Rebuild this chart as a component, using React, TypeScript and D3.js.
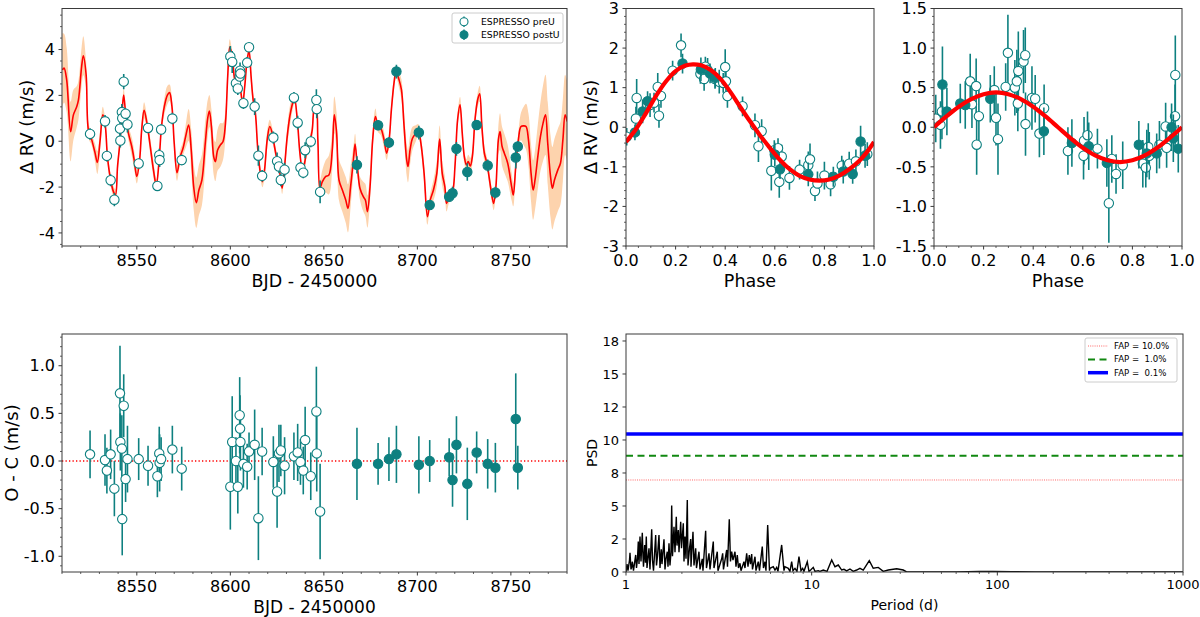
import React from "react";
import * as d3 from "d3";

// ---------------- DATA ----------------
// preU observations: [BJD-2450000, dRV (m/s), O-C (m/s), error (m/s)]
const preU: number[][] = [
  [8525.0, 0.32, 0.07, 0.25], [8533.0, 0.87, 0.01, 0.27], [8534.0, -0.64, -0.1, 0.24],
  [8536.0, -1.7, 0.07, 0.26], [8538.0, -2.55, -0.29, 0.29], [8541.0, 0.55, 0.71, 0.5],
  [8541.2, 0.03, 0.2, 0.3], [8542.0, 1.27, 0.13, 0.35], [8542.2, 1.0, -0.61, 0.38],
  [8543.0, 2.6, 0.58, 0.33], [8544.0, 1.2, -0.19, 0.24], [8545.0, 0.73, 0.02, 0.35],
  [8551.0, -0.97, 0.02, 0.22], [8556.0, 0.58, -0.05, 0.21], [8561.0, -1.95, -0.16, 0.22],
  [8562.0, -0.61, 0.08, 0.28], [8562.2, -0.82, -0.02, 0.3], [8563.0, 0.51, 0.02, 0.23],
  [8569.0, 0.99, 0.12, 0.25], [8574.0, -0.82, -0.08, 0.23], [8600.0, 3.7, -0.27, 0.45],
  [8601.0, 3.46, 0.2, 0.48], [8603.0, 2.53, 0.0, 0.25], [8604.0, 2.3, -0.27, 0.28],
  [8605.0, 2.82, 0.48, 0.4], [8605.2, 3.08, 0.34, 0.35], [8605.4, 2.95, 0.2, 0.3],
  [8607.0, 1.66, -0.03, 0.25], [8609.0, 3.43, -0.06, 0.24], [8610.0, 4.1, 0.1, 0.2],
  [8613.0, 1.51, 0.17, 0.37], [8615.0, -0.63, -0.6, 0.44], [8617.0, -1.51, 0.1, 0.25],
  [8623.0, 0.16, -0.01, 0.27], [8625.0, -0.87, -0.32, 0.38], [8626.0, -1.1, 0.08, 0.3],
  [8627.0, -1.69, 0.11, 0.27], [8629.0, -1.24, -0.05, 0.3], [8634.0, 1.9, 0.05, 0.25],
  [8636.0, 0.81, 0.09, 0.3], [8637.5, -1.15, -0.01, 0.24], [8639.0, -1.37, -0.1, 0.25],
  [8640.0, -0.39, 0.22, 0.35], [8643.0, -0.01, -0.16, 0.25], [8646.0, 1.8, 0.52, 0.47],
  [8646.2, 1.4, 0.08, 0.4], [8648.0, -2.21, -0.53, 0.5],
];
// postU observations: [BJD-2450000, dRV, O-C, error]
const postU: number[][] = [
  [8667.7, -1.03, -0.03, 0.38], [8679.0, 0.7, -0.03, 0.22], [8684.8, -0.06, 0.02, 0.23],
  [8688.8, 3.04, 0.07, 0.3], [8700.8, 0.38, -0.04, 0.3], [8706.6, -2.78, 0.0, 0.22],
  [8717.0, -2.42, 0.04, 0.2], [8718.8, -2.27, -0.2, 0.28], [8720.9, -0.33, 0.17, 0.3],
  [8726.7, -1.34, -0.24, 0.38], [8731.7, 0.71, 0.09, 0.22], [8737.6, -1.06, -0.03, 0.26],
  [8741.7, -2.24, -0.07, 0.26], [8752.6, -0.71, 0.44, 0.48], [8753.7, -0.23, -0.07, 0.23],
];

// GP model: day, mean, 1-sigma half width
const gpDays = [
  8510.2, 8511.1, 8512.5, 8514.6, 8516.1, 8517.9, 8518.8, 8520.5, 8521.4, 8522.9, 8524.1, 8525.9,
  8527.7, 8528.9, 8530.4, 8531.8, 8533.0, 8534.3, 8535.7, 8537.5, 8538.6, 8539.7, 8541.1, 8542.2,
  8543.0, 8544.3, 8545.5, 8547.3, 8548.6, 8550.0, 8551.4, 8552.7, 8553.9, 8555.4, 8557.2, 8558.9,
  8560.4, 8561.8, 8563.2, 8564.7, 8566.4, 8567.5, 8568.8, 8570.0, 8571.5, 8573.2, 8574.7, 8576.1,
  8577.7, 8579.1, 8580.4, 8581.8, 8583.2, 8584.8, 8586.6, 8587.9, 8588.8, 8589.9, 8591.1, 8592.0,
  8593.2, 8594.7, 8596.1, 8597.4, 8598.6, 8599.7, 8600.7, 8601.5, 8602.5, 8603.6, 8604.7, 8605.7,
  8606.6, 8607.7, 8608.9, 8610.0, 8611.1, 8612.2, 8613.4, 8614.7, 8616.1, 8617.2, 8618.3, 8619.7,
  8621.1, 8622.4, 8623.6, 8625.0, 8626.5, 8627.7, 8629.0, 8630.4, 8631.8, 8633.3, 8634.3, 8635.8,
  8637.2, 8638.6, 8639.7, 8641.1, 8642.5, 8643.8, 8645.0, 8645.8, 8646.8, 8647.9, 8649.2, 8650.9,
  8652.7, 8654.5, 8655.6, 8656.8, 8658.1, 8659.9, 8661.7, 8662.9, 8664.3, 8665.8, 8666.7, 8667.9,
  8669.3, 8671.1, 8672.2, 8673.3, 8674.7, 8676.1, 8677.6, 8679.0, 8680.4, 8682.2, 8683.6, 8684.9,
  8686.1, 8687.6, 8688.6, 8690.2, 8691.5, 8692.9, 8694.3, 8695.0, 8696.1, 8697.4, 8699.2, 8700.4,
  8701.9, 8703.6, 8705.4, 8706.9, 8708.6, 8710.4, 8711.9, 8713.3, 8714.7, 8715.6, 8717.0, 8718.8,
  8720.1, 8721.5, 8722.8, 8724.0, 8725.1, 8726.2, 8727.2, 8728.3, 8729.4, 8730.8, 8732.2, 8733.3,
  8734.5, 8735.8, 8737.2, 8738.7, 8740.1, 8740.8, 8742.0, 8743.3, 8744.2, 8745.3, 8746.5, 8748.3,
  8750.4, 8751.3, 8752.6, 8754.0, 8755.4, 8756.9, 8758.1, 8759.4, 8760.8, 8761.9, 8762.9, 8764.4,
  8765.8, 8767.2, 8768.5, 8769.7, 8771.2, 8772.2, 8773.3, 8775.1, 8776.5, 8777.8, 8779.0, 8780.1,
];
const gpRV = [
  3.11, 3.19, 2.68, 0.42, 1.15, 1.51, 1.8, 3.26, 3.73, 2.9, 0.5, 0.06,
  -0.52, -0.93, 0.06, 1.15, 0.79, -0.67, -1.54, -2.2, -2.34, -1.1, 0.06, 1.37,
  2.02, 0.93, 0.35, -0.23, -0.82, -1.54, -0.9, 0.6, 1.35, 0.8, -0.23, -1.25,
  -1.91, -0.96, 0.64, 1.51, 2.02, 2.12, 1.51, -0.09, -1.37, -0.67, -0.31, 0.2,
  0.71, -0.38, -1.98, -2.68, -2.13, -1.69, -0.09, 1.0, 1.32, 0.64, -0.67, -0.89,
  -0.38, -0.16, -0.01, 0.79, 2.82, 4.1, 3.84, 3.33, 2.68, 2.6, 2.68, 2.1,
  1.66, 2.39, 3.48, 3.96, 2.82, 1.8, 1.22, -0.38, -1.4, -1.76, -1.25, 0.06,
  0.64, 0.35, -0.23, -0.82, -1.4, -2.05, -1.1, 0.2, 1.08, 1.66, 1.88, 0.93,
  -0.52, -1.32, -0.96, -0.31, -0.01, 0.5, 1.51, 1.54, 0.06, -2.05, -1.76, -1.54,
  -1.47, -0.38, 1.15, 0.4, -1.69, -2.13, -2.56, -2.93, -1.98, -0.82, -0.12, -1.1,
  -2.05, -2.42, -2.56, -3.07, -1.98, 0.06, 1.08, 0.64, 0.57, 0.06, -0.52, 0.06,
  1.37, 2.6, 3.04, 2.68, 2.24, 0.64, -0.82, -1.1, -0.38, 0.13, 0.35, 0.5,
  -0.09, -1.4, -3.29, -2.56, -2.13, -1.4, 0.09, -1.4, -1.98, -2.71, -2.42, -2.2,
  -1.1, 0.93, 1.59, 0.35, -0.67, -1.03, -0.89, -1.08, -0.67, 0.93, 1.8, 2.07,
  0.64, -0.52, -0.96, -1.76, -2.49, -2.71, -1.98, 0.06, 0.42, -0.23, -0.52, -0.96,
  -1.98, -2.34, -1.1, 0.06, 0.64, 0.67, 0.64, 0.06, -1.4, -2.13, -1.69, -0.67,
  0.2, 0.79, 1.15, -0.09, -1.54, -2.05, -1.69, -1.25, -0.96, 0.06, 1.15, 0.86,
];
const gpSig = [
  1.6, 1.5, 1.4, 1.3, 1.1, 0.9, 0.85, 0.85, 0.85, 0.6, 0.35, 0.25,
  0.4, 0.5, 0.45, 0.35, 0.25, 0.25, 0.25, 0.25, 0.25, 0.3, 0.25, 0.25,
  0.3, 0.25, 0.3, 0.4, 0.4, 0.3, 0.25, 0.3, 0.35, 0.3, 0.35, 0.35,
  0.25, 0.25, 0.25, 0.35, 0.4, 0.35, 0.3, 0.3, 0.35, 0.3, 0.3, 0.5,
  0.7, 0.9, 1.0, 1.1, 1.1, 1.1, 1.0, 0.8, 0.7, 0.75, 0.8, 0.85,
  0.9, 0.95, 0.8, 0.6, 0.45, 0.35, 0.25, 0.25, 0.2, 0.2, 0.2, 0.2,
  0.2, 0.25, 0.2, 0.2, 0.3, 0.3, 0.25, 0.25, 0.25, 0.25, 0.3, 0.4,
  0.3, 0.25, 0.25, 0.2, 0.2, 0.25, 0.25, 0.4, 0.45, 0.3, 0.25, 0.25,
  0.25, 0.25, 0.25, 0.3, 0.25, 0.3, 0.3, 0.25, 0.35, 0.35, 0.5, 0.7,
  0.85, 0.85, 0.8, 0.85, 0.9, 0.95, 1.0, 1.05, 0.9, 0.6, 0.45, 0.3,
  0.5, 0.65, 0.7, 0.7, 0.6, 0.45, 0.35, 0.25, 0.3, 0.35, 0.3, 0.25,
  0.3, 0.3, 0.25, 0.35, 0.45, 0.6, 0.7, 0.7, 0.65, 0.5, 0.35, 0.25,
  0.3, 0.4, 0.35, 0.3, 0.45, 0.55, 0.6, 0.55, 0.45, 0.35, 0.25, 0.25,
  0.3, 0.3, 0.35, 0.35, 0.3, 0.25, 0.3, 0.35, 0.35, 0.3, 0.3, 0.35,
  0.4, 0.35, 0.25, 0.3, 0.3, 0.3, 0.3, 0.6, 0.8, 0.85, 0.85, 0.8,
  0.6, 0.5, 0.3, 0.35, 0.6, 0.85, 1.0, 1.15, 1.25, 1.3, 1.3, 1.4,
  1.5, 1.65, 1.75, 1.8, 1.8, 1.8, 1.8, 1.8, 1.8, 1.8, 1.75, 1.75,
];

// Phase-folded planet b: [phase, dRV, err]
const phaseB_pre: number[][] = [
  [0.003, -0.24, 0.22], [0.043, 0.74, 0.48], [0.04, 0.22, 0.3], [0.097, 0.56, 0.3], [0.113, 0.62, 0.25],
  [0.128, 1.02, 0.35], [0.133, 0.29, 0.3], [0.141, 0.79, 0.3], [0.188, 1.43, 0.25], [0.222, 2.07, 0.3],
  [0.3, 1.35, 0.25], [0.315, 1.22, 0.3], [0.32, 1.53, 0.25], [0.329, 1.45, 0.3], [0.359, 1.22, 0.25],
  [0.376, 1.15, 0.3], [0.392, 1.12, 0.25], [0.4, 1.52, 0.45], [0.403, 1.16, 0.35], [0.409, 0.79, 0.3],
  [0.47, 0.53, 0.25], [0.52, 0.05, 0.3], [0.534, -0.48, 0.4], [0.547, -0.1, 0.3], [0.586, -1.1, 0.5],
  [0.598, -0.58, 0.25], [0.613, -0.53, 0.25], [0.618, -1.38, 0.4], [0.628, -0.74, 0.3], [0.659, -1.28, 0.3],
  [0.7, -1.07, 0.25], [0.735, -0.96, 0.35], [0.742, -0.81, 0.4], [0.762, -1.61, 0.25], [0.772, -1.42, 0.3],
  [0.8, -1.22, 0.35], [0.825, -1.44, 0.3], [0.87, -0.97, 0.25], [0.9, -0.92, 0.3], [0.927, -0.86, 0.3],
  [0.973, -0.68, 0.3],
];
const phaseB_post: number[][] = [
  [0.036, -0.13, 0.2], [0.067, 0.4, 0.3], [0.087, 0.66, 0.25], [0.228, 1.61, 0.25], [0.302, 1.46, 0.3],
  [0.339, 1.36, 0.25], [0.36, 1.25, 0.25], [0.6, -0.69, 0.3], [0.621, -1.06, 0.25], [0.735, -1.19, 0.3],
  [0.836, -1.25, 0.25], [0.876, -1.12, 0.3], [0.914, -1.18, 0.25], [0.946, -0.36, 0.4], [0.964, -0.72, 0.3],
];
const modelB_phase = [0, 0.04, 0.08, 0.12, 0.16, 0.2, 0.24, 0.27, 0.3, 0.34, 0.38, 0.42, 0.46, 0.5,
  0.54, 0.58, 0.62, 0.66, 0.7, 0.74, 0.78, 0.82, 0.86, 0.9, 0.94, 0.97, 1.0];
const modelB_rv = [-0.37, -0.05, 0.35, 0.78, 1.15, 1.42, 1.56, 1.59, 1.57, 1.45, 1.23, 0.9, 0.52, 0.15,
  -0.2, -0.52, -0.82, -1.06, -1.23, -1.32, -1.35, -1.32, -1.22, -1.06, -0.85, -0.64, -0.37];

// Phase-folded planet c
const phaseC_pre: number[][] = [
  [0.007, 0.11, 0.3], [0.026, 0.03, 0.3], [0.032, 0.2, 0.35], [0.146, 0.58, 0.35], [0.153, 0.29, 0.3],
  [0.17, 0.52, 0.35], [0.172, -0.22, 0.38], [0.181, 0.14, 0.35], [0.243, 0.47, 0.3], [0.25, 0.12, 0.35],
  [0.258, -0.15, 0.45], [0.289, 0.51, 0.3], [0.298, 0.94, 0.48], [0.326, 0.5, 0.35], [0.334, 0.58, 0.4],
  [0.34, 0.71, 0.5], [0.338, 0.3, 0.35], [0.361, 0.83, 0.4], [0.368, 0.91, 0.35], [0.369, 0.04, 0.4],
  [0.395, 0.37, 0.4], [0.408, 0.36, 0.3], [0.425, -0.08, 0.3], [0.444, 0.24, 0.3], [0.54, -0.3, 0.3],
  [0.603, -0.36, 0.3], [0.605, -0.17, 0.3], [0.619, -0.1, 0.3], [0.659, -0.27, 0.25], [0.705, -0.96, 0.5],
  [0.717, -0.4, 0.3], [0.734, -0.59, 0.25], [0.761, -0.48, 0.3], [0.842, -0.46, 0.3], [0.854, -0.51, 0.25],
  [0.864, -0.25, 0.3], [0.868, -0.36, 0.3], [0.909, -0.22, 0.3], [0.934, 0.01, 0.3], [0.938, -0.26, 0.25],
  [0.972, 0.14, 0.4], [0.973, 0.66, 0.5],
];
const phaseC_post: number[][] = [
  [0.034, 0.54, 0.48], [0.052, 0.2, 0.3], [0.106, 0.3, 0.25], [0.126, 0.28, 0.3], [0.227, 0.36, 0.3],
  [0.443, -0.05, 0.3], [0.556, -0.2, 0.3], [0.624, -0.24, 0.3], [0.697, -0.45, 0.3], [0.826, -0.22, 0.3],
  [0.858, -0.33, 0.3], [0.898, -0.33, 0.25], [0.958, 0.0, 0.3], [0.965, -0.14, 0.3], [0.985, -0.27, 0.3],
];
const modelC_phase = [0, 0.05, 0.1, 0.15, 0.2, 0.25, 0.3, 0.35, 0.4, 0.45, 0.5, 0.55, 0.6, 0.65, 0.7,
  0.75, 0.8, 0.85, 0.9, 0.95, 1.0];
const modelC_rv = [0, 0.136, 0.259, 0.356, 0.418, 0.44, 0.418, 0.356, 0.259, 0.136, 0, -0.136, -0.259,
  -0.356, -0.418, -0.44, -0.418, -0.356, -0.259, -0.136, 0];

// Periodogram of residuals: [period (d), PSD]
const periodogram: number[][] = [
  [1.0, 0.0], [1.0125, 0.6], [1.0251, 0.1], [1.0444, 0.9], [1.0509, 1.46], [1.064, 0.2], [1.0773, 0.5],
  [1.0813, 0.78], [1.0973, 0.1], [1.1277, 1.29], [1.139, 0.3], [1.1532, 1.0], [1.1647, 2.3], [1.1749, 0.6],
  [1.1896, 2.68], [1.2044, 0.8], [1.224, 2.98], [1.2347, 1.2], [1.2423, 0.4], [1.2609, 2.05], [1.2735, 0.7],
  [1.2862, 2.68], [1.2974, 0.3], [1.3137, 1.1], [1.3301, 1.8], [1.3464, 0.2], [1.3752, 3.23], [1.3889, 0.9],
  [1.4063, 0.1], [1.4238, 1.3], [1.445, 2.8], [1.4594, 0.5], [1.4776, 1.2], [1.5055, 2.8], [1.5243, 0.3],
  [1.5491, 1.72], [1.5627, 0.6], [1.6017, 2.47], [1.6218, 0.2], [1.6421, 1.0], [1.6688, 1.54], [1.6834, 0.4],
  [1.7044, 2.17], [1.7254, 0.5], [1.747, 1.5], [1.7624, 5.03], [1.7799, 1.2], [1.8134, 3.43], [1.8361, 1.5],
  [1.8659, 4.19], [1.8821, 2.0], [1.9127, 3.18], [1.9295, 1.5], [1.9708, 3.81], [1.9904, 1.8], [2.0353, 3.69],
  [2.0529, 0.8], [2.0786, 2.68], [2.1045, 1.0], [2.1387, 5.45], [2.1575, 0.5], [2.1979, 1.8], [2.2307, 2.5],
  [2.2387, 0.4], [2.295, 3.05], [2.3237, 0.5], [2.3729, 1.8], [2.3965, 0.3], [2.4721, 1.54], [2.503, 0.2],
  [2.5754, 1.0], [2.5975, 0.1], [2.6856, 3.13], [2.7124, 0.3], [2.799, 1.41], [2.8336, 0.2], [2.9522, 2.3],
  [2.9779, 0.3], [3.1017, 1.54], [3.1283, 0.1], [3.2757, 1.0], [3.3165, 1.41], [3.3497, 0.2], [3.4856, 1.67],
  [3.5204, 0.4], [3.5999, 3.99], [3.6534, 0.8], [3.7084, 1.54], [3.7686, 0.9], [3.8637, 1.54], [3.912, 0.4],
  [3.9756, 1.29], [4.035, 0.3], [4.1111, 0.66], [4.1623, 0.1], [4.3198, 0.78], [4.3738, 0.3], [4.4668, 1.41],
  [4.5394, 0.4], [4.6132, 1.29], [4.6819, 0.6], [4.7525, 1.36], [4.7998, 0.2], [4.9513, 1.16], [5.0132, 0.1],
  [5.1573, 0.78], [5.2348, 0.1], [5.42, 1.92], [5.5007, 0.3], [5.6042, 0.78], [5.6743, 0.1], [5.7958, 3.56],
  [5.9256, 0.1], [5.9626, 0.28], [6.2115, 0.4], [6.3445, 0.15], [6.4789, 0.35], [6.5843, 0.05], [6.8934, 2.05],
  [7.0927, 0.1], [7.1812, 0.4], [7.4817, 0.28], [7.6403, 0.05], [7.8037, 0.78], [7.9306, 0.1], [8.1302, 0.28],
  [8.3335, 0.05], [8.5432, 1.16], [8.7582, 0.1], [8.9437, 0.28], [9.0891, 0.05], [9.469, 0.78], [9.6719, 0.05],
  [9.8764, 0.15], [10.2, 0.35], [10.42, 0.05], [10.85, 0.1], [11.08, 0.05], [11.55, 0.15], [12.1, 0.05],
  [12.82, 0.91], [13.35, 0.4], [13.91, 0.53], [14.51, 0.15], [14.93, 0.2], [15.44, 0.08], [16.08, 0.23],
  [16.75, 0.05], [17.47, 0.15], [18.2, 0.28], [18.96, 0.15], [20.43, 0.86], [21.46, 0.28], [22.84, 0.35],
  [24.3, 0.05], [25.85, 0.15], [28.69, 0.25], [31.14, 0.15], [32.48, 0.01], [40, 0.0], [60, 0.0], [80, 0.04],
  [95, 0.05], [120, 0.03], [160, 0.0], [1000, 0.0],
];
const fapLevels = [6.97, 8.8, 10.45];
const fapLabels = ["FAP = 10.0%", "FAP =  1.0%", "FAP =  0.1%"];

// tick labels
const timeTicks = [8550, 8600, 8650, 8700, 8750];
const rvTicks = [-4, -2, 0, 2, 4];
const phaseTicks = [0, 0.2, 0.4, 0.6, 0.8, 1.0];
const bTicks = [-3, -2, -1, 0, 1, 2, 3];
const cTicks = [-1.5, -1.0, -0.5, 0, 0.5, 1.0, 1.5];
const ocTicks = [-1.0, -0.5, 0, 0.5, 1.0];
const psdTicks = [0, 2.5, 5, 7.5, 10, 12.5, 15, 17.5];
const psdTickLabels = ["0", "2", "5", "8", "10", "12", "15", "18"];
const perTicks = [1, 10, 100, 1000];

// ---------------- STYLE ----------------
const FONT = "DejaVu Sans, sans-serif";
const AX = "#3a3a3a";
const TEAL = "#0e8080";
const RED = "#ff0000";

function steps(a: number, b: number, s: number) {
  const n = Math.round((b - a) / s);
  return d3.range(n + 1).map((i) => +(a + i * s).toFixed(6));
}
function minors(a: number, b: number, s: number, majors: number[]) {
  return steps(a, b, s).filter((v) => !majors.some((m) => Math.abs(m - v) < 1e-6));
}

type Sc = (v: number) => number;

function XAxis({ sc, y, major, labels, minor, fs }: { sc: Sc; y: number; major: number[]; labels: string[]; minor: number[]; fs: number }) {
  return (
    <g>
      {minor.map((v, i) => (
        <line key={"m" + i} x1={sc(v)} x2={sc(v)} y1={y} y2={y + 2} stroke={AX} strokeWidth={0.8} />
      ))}
      {major.map((v, i) => (
        <g key={"M" + i}>
          <line x1={sc(v)} x2={sc(v)} y1={y} y2={y + 3.5} stroke={AX} strokeWidth={1} />
          <text x={sc(v)} y={y + 8 + 0.73 * fs} textAnchor="middle" fontSize={fs} fontFamily={FONT}>
            {labels[i]}
          </text>
        </g>
      ))}
    </g>
  );
}
function YAxis({ sc, x, major, labels, minor, fs }: { sc: Sc; x: number; major: number[]; labels: string[]; minor: number[]; fs: number }) {
  return (
    <g>
      {minor.map((v, i) => (
        <line key={"m" + i} x1={x - 2} x2={x} y1={sc(v)} y2={sc(v)} stroke={AX} strokeWidth={0.8} />
      ))}
      {major.map((v, i) => (
        <g key={"M" + i}>
          <line x1={x - 3.5} x2={x} y1={sc(v)} y2={sc(v)} stroke={AX} strokeWidth={1} />
          <text x={x - 7} y={sc(v)} dy="0.36em" textAnchor="end" fontSize={fs} fontFamily={FONT}>
            {labels[i]}
          </text>
        </g>
      ))}
    </g>
  );
}
function Frame({ x0, x1, y0, y1 }: { x0: number; x1: number; y0: number; y1: number }) {
  return <rect x={x0} y={y0} width={x1 - x0} height={y1 - y0} fill="none" stroke={AX} strokeWidth={1} />;
}
function Points({ data, sx, sy, vi, ei, filled, r = 4.7 }: { data: number[][]; sx: Sc; sy: Sc; vi: number; ei: number; filled: boolean; r?: number }) {
  return (
    <g>
      {data.map((d, i) => (
        <line key={"e" + i} x1={sx(d[0])} x2={sx(d[0])} y1={sy(d[vi] - d[ei])} y2={sy(d[vi] + d[ei])} stroke={TEAL} strokeWidth={1.6} />
      ))}
      {data.map((d, i) => (
        <circle key={"c" + i} cx={sx(d[0])} cy={sy(d[vi])} r={r} fill={filled ? TEAL : "white"} stroke={TEAL} strokeWidth={1.1} />
      ))}
    </g>
  );
}
function YLabel({ x, y, text, fs }: { x: number; y: number; text: string; fs: number }) {
  return (
    <text transform={`translate(${x},${y}) rotate(-90)`} textAnchor="middle" fontSize={fs} fontFamily={FONT}>
      {text}
    </text>
  );
}

export default function App() {
  // panel geometry
  const TL = { x0: 62, x1: 567, y0: 8.5, y1: 246 };
  const TM = { x0: 626, x1: 874, y0: 8.5, y1: 246 };
  const TR = { x0: 934, x1: 1182, y0: 8.5, y1: 246 };
  const BL = { x0: 62, x1: 567, y0: 334, y1: 572 };
  const BR = { x0: 626, x1: 1183, y0: 334, y1: 572 };

  const xT = d3.scaleLinear().domain([8510, 8780]).range([TL.x0, TL.x1]);
  const yTL = d3.scaleLinear().domain([-4.57, 5.79]).range([TL.y1, TL.y0]);
  const xB = d3.scaleLinear().domain([0, 1]).range([TM.x0, TM.x1]);
  const yB = d3.scaleLinear().domain([-3, 3]).range([TM.y1, TM.y0]);
  const xC = d3.scaleLinear().domain([0, 1]).range([TR.x0, TR.x1]);
  const yC = d3.scaleLinear().domain([-1.5, 1.5]).range([TR.y1, TR.y0]);
  const yOC = d3.scaleLinear().domain([-1.165, 1.333]).range([BL.y1, BL.y0]);
  const xP = d3.scaleLog().domain([1, 1000]).range([BR.x0, BR.x1]);
  const yP = d3.scaleLinear().domain([0, 18.03]).range([BR.y1, BR.y0]);

  const idx = d3.range(gpDays.length);
  const gpArea = d3
    .area<number>()
    .x((i) => xT(gpDays[i]))
    .y0((i) => yTL(gpRV[i] - gpSig[i]))
    .y1((i) => yTL(gpRV[i] + gpSig[i]))
    .curve(d3.curveCatmullRom);
  const gpLine = d3
    .line<number>()
    .x((i) => xT(gpDays[i]))
    .y((i) => yTL(gpRV[i]))
    .curve(d3.curveCatmullRom);
  const bLine = d3
    .line<number>()
    .x((i) => xB(modelB_phase[i]))
    .y((i) => yB(modelB_rv[i]))
    .curve(d3.curveCatmullRom);
  const cLine = d3
    .line<number>()
    .x((i) => xC(modelC_phase[i]))
    .y((i) => yC(modelC_rv[i]))
    .curve(d3.curveCatmullRom);
  const pLine = d3
    .line<number[]>()
    .x((d) => xP(d[0]))
    .y((d) => yP(d[1]));

  const fmt1 = (v: number) => v.toFixed(1);
  const perMinor: number[] = [];
  [1, 10, 100].forEach((dec) => [2, 3, 4, 5, 6, 7, 8, 9].forEach((k) => perMinor.push(dec * k)));

  const clip = (id: string, r: { x0: number; x1: number; y0: number; y1: number }) => (
    <clipPath id={id}>
      <rect x={r.x0} y={r.y0} width={r.x1 - r.x0} height={r.y1 - r.y0} />
    </clipPath>
  );

  return (
    <svg width={1200} height={617} style={{ position: "absolute", left: 0, top: 0, background: "white" }}>
      <defs>
        {clip("cTL", TL)}
        {clip("cTM", TM)}
        {clip("cTR", TR)}
        {clip("cBL", BL)}
        {clip("cBR", BR)}
      </defs>

      {/* ---------- Top-left: RV time series ---------- */}
      <g clipPath="url(#cTL)">
        <path d={gpArea(idx) || ""} fill="#fdd3ad" stroke="none" />
        <path d={gpLine(idx) || ""} fill="none" stroke={RED} strokeWidth={1.6} />
        <Points data={preU} sx={xT} sy={yTL} vi={1} ei={3} filled={false} />
        <Points data={postU} sx={xT} sy={yTL} vi={1} ei={3} filled={true} />
      </g>
      <Frame {...TL} />
      <XAxis sc={xT} y={TL.y1} major={timeTicks} labels={timeTicks.map(String)} minor={minors(8510, 8780, 10, timeTicks)} fs={16} />
      <YAxis sc={yTL} x={TL.x0} major={rvTicks} labels={rvTicks.map(String)} minor={minors(-4.5, 5.5, 0.5, rvTicks)} fs={16} />
      <YLabel x={33} y={127} text="Δ RV (m/s)" fs={18} />
      <text x={(TL.x0 + TL.x1) / 2} y={287} textAnchor="middle" fontSize={17.5} fontFamily={FONT}>
        BJD - 2450000
      </text>
      {/* legend */}
      <g>
        <rect x={452} y={13} width={111} height={30} rx={2} fill="white" fillOpacity={0.85} stroke="#cccccc" strokeWidth={1} />
        <line x1={464} x2={464} y1={16.5} y2={27} stroke={TEAL} strokeWidth={1.4} />
        <circle cx={464} cy={21.7} r={4} fill="white" stroke={TEAL} strokeWidth={1.1} />
        <text x={481} y={25} fontSize={9.3} fontFamily={FONT}>ESPRESSO preU</text>
        <line x1={464} x2={464} y1={29.5} y2={40} stroke={TEAL} strokeWidth={1.4} />
        <circle cx={464} cy={34.7} r={4} fill={TEAL} stroke={TEAL} strokeWidth={1.1} />
        <text x={481} y={38} fontSize={9.3} fontFamily={FONT}>ESPRESSO postU</text>
      </g>

      {/* ---------- Top-middle: phase b ---------- */}
      <g clipPath="url(#cTM)">
        <Points data={phaseB_pre} sx={xB} sy={yB} vi={1} ei={2} filled={false} />
        <Points data={phaseB_post} sx={xB} sy={yB} vi={1} ei={2} filled={true} />
        <path d={bLine(d3.range(modelB_phase.length)) || ""} fill="none" stroke={RED} strokeWidth={4.2} />
      </g>
      <Frame {...TM} />
      <XAxis sc={xB} y={TM.y1} major={phaseTicks} labels={phaseTicks.map(fmt1)} minor={minors(0, 1, 0.05, phaseTicks)} fs={16} />
      <YAxis sc={yB} x={TM.x0} major={bTicks} labels={bTicks.map(String)} minor={minors(-3, 3, 0.2, bTicks)} fs={16} />
      <YLabel x={597} y={127} text="Δ RV (m/s)" fs={18} />
      <text x={(TM.x0 + TM.x1) / 2} y={287} textAnchor="middle" fontSize={17.5} fontFamily={FONT}>
        Phase
      </text>

      {/* ---------- Top-right: phase c ---------- */}
      <g clipPath="url(#cTR)">
        <Points data={phaseC_pre} sx={xC} sy={yC} vi={1} ei={2} filled={false} />
        <Points data={phaseC_post} sx={xC} sy={yC} vi={1} ei={2} filled={true} />
        <path d={cLine(d3.range(modelC_phase.length)) || ""} fill="none" stroke={RED} strokeWidth={4.2} />
      </g>
      <Frame {...TR} />
      <XAxis sc={xC} y={TR.y1} major={phaseTicks} labels={phaseTicks.map(fmt1)} minor={minors(0, 1, 0.05, phaseTicks)} fs={16} />
      <YAxis sc={yC} x={TR.x0} major={cTicks} labels={cTicks.map(fmt1)} minor={minors(-1.5, 1.5, 0.1, cTicks)} fs={16} />
      <text x={(TR.x0 + TR.x1) / 2} y={287} textAnchor="middle" fontSize={17.5} fontFamily={FONT}>
        Phase
      </text>

      {/* ---------- Bottom-left: O - C ---------- */}
      <g clipPath="url(#cBL)">
        <line x1={BL.x0} x2={BL.x1} y1={yOC(0)} y2={yOC(0)} stroke={RED} strokeWidth={1.3} strokeDasharray="1.3,2.2" />
        <Points data={preU} sx={xT} sy={yOC} vi={2} ei={3} filled={false} />
        <Points data={postU} sx={xT} sy={yOC} vi={2} ei={3} filled={true} />
      </g>
      <Frame {...BL} />
      <XAxis sc={xT} y={BL.y1} major={timeTicks} labels={timeTicks.map(String)} minor={minors(8510, 8780, 10, timeTicks)} fs={16} />
      <YAxis sc={yOC} x={BL.x0} major={ocTicks} labels={ocTicks.map(fmt1)} minor={minors(-1.1, 1.3, 0.1, ocTicks)} fs={16} />
      <YLabel x={18} y={453} text="O - C (m/s)" fs={18} />
      <text x={(BL.x0 + BL.x1) / 2} y={612.5} textAnchor="middle" fontSize={17} fontFamily={FONT}>
        BJD - 2450000
      </text>

      {/* ---------- Bottom-right: periodogram ---------- */}
      <g clipPath="url(#cBR)">
        <line x1={BR.x0} x2={BR.x1} y1={yP(fapLevels[0])} y2={yP(fapLevels[0])} stroke="#ff5555" strokeWidth={0.9} strokeDasharray="1,1.2" />
        <line x1={BR.x0} x2={BR.x1} y1={yP(fapLevels[1])} y2={yP(fapLevels[1])} stroke="#118811" strokeWidth={2} strokeDasharray="7,4.5" />
        <line x1={BR.x0} x2={BR.x1} y1={yP(fapLevels[2])} y2={yP(fapLevels[2])} stroke="#0000ff" strokeWidth={3.5} />
        <path d={pLine(periodogram) || ""} fill="none" stroke="black" strokeWidth={1.4} />
      </g>
      <Frame {...BR} />
      <XAxis sc={xP} y={BR.y1} major={perTicks} labels={perTicks.map(String)} minor={perMinor} fs={13} />
      <YAxis sc={yP} x={BR.x0} major={psdTicks} labels={psdTickLabels} minor={[]} fs={13} />
      <YLabel x={597} y={453} text="PSD" fs={14} />
      <text x={(BR.x0 + BR.x1) / 2} y={610} textAnchor="middle" fontSize={14} fontFamily={FONT}>
        Period (d)
      </text>
      <g>
        <rect x={1085} y={338} width={92} height={44} rx={2} fill="white" fillOpacity={0.85} stroke="#cccccc" strokeWidth={1} />
        <line x1={1088} x2={1108} y1={346} y2={346} stroke="#ff5555" strokeWidth={0.9} strokeDasharray="1,1.2" />
        <line x1={1088} x2={1108} y1={359.5} y2={359.5} stroke="#118811" strokeWidth={2} strokeDasharray="7,4.5" />
        <line x1={1088} x2={1108} y1={372.7} y2={372.7} stroke="#0000ff" strokeWidth={3.5} />
        {fapLabels.map((t, i) => (
          <text key={i} x={1114} y={349 + i * 13.4} fontSize={8.6} fontFamily={FONT} style={{ whiteSpace: "pre" }}>
            {t}
          </text>
        ))}
      </g>
    </svg>
  );
}
